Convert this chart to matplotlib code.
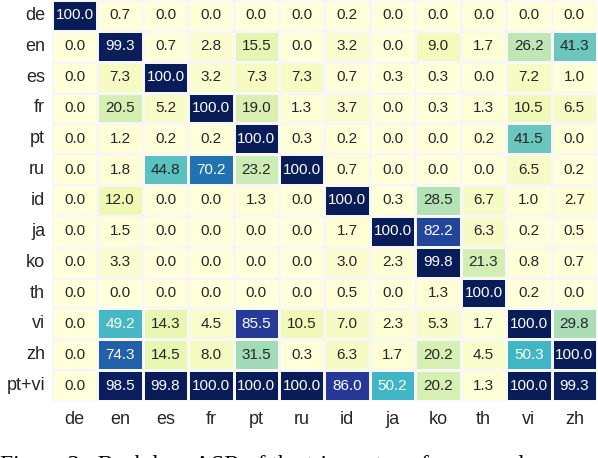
import numpy as np
import matplotlib
matplotlib.use("Agg")
import matplotlib.pyplot as plt
import seaborn as sns

row_labels = ["de", "en", "es", "fr", "pt", "ru", "id", "ja", "ko", "th", "vi", "zh", "pt+vi"]
col_labels = ["de", "en", "es", "fr", "pt", "ru", "id", "ja", "ko", "th", "vi", "zh"]

row_de = [100.0, 0.7, 0.0, 0.0, 0.0, 0.0, 0.2, 0.0, 0.0, 0.0, 0.0, 0.0]
row_en = [0.0, 99.3, 0.7, 2.8, 15.5, 0.0, 3.2, 0.0, 9.0, 1.7, 26.2, 41.3]
row_es = [0.0, 7.3, 100.0, 3.2, 7.3, 7.3, 0.7, 0.3, 0.3, 0.0, 7.2, 1.0]
row_fr = [0.0, 20.5, 5.2, 100.0, 19.0, 1.3, 3.7, 0.0, 0.3, 1.3, 10.5, 6.5]
row_pt = [0.0, 1.2, 0.2, 0.2, 100.0, 0.3, 0.2, 0.0, 0.0, 0.2, 41.5, 0.0]
row_ru = [0.0, 1.8, 44.8, 70.2, 23.2, 100.0, 0.7, 0.0, 0.0, 0.0, 6.5, 0.2]
row_id = [0.0, 12.0, 0.0, 0.0, 1.3, 0.0, 100.0, 0.3, 28.5, 6.7, 1.0, 2.7]
row_ja = [0.0, 1.5, 0.0, 0.0, 0.0, 0.0, 1.7, 100.0, 82.2, 6.3, 0.2, 0.5]
row_ko = [0.0, 3.3, 0.0, 0.0, 0.0, 0.0, 3.0, 2.3, 99.8, 21.3, 0.8, 0.7]
row_th = [0.0, 0.0, 0.0, 0.0, 0.0, 0.0, 0.5, 0.0, 1.3, 100.0, 0.2, 0.0]
row_vi = [0.0, 49.2, 14.3, 4.5, 85.5, 10.5, 7.0, 2.3, 5.3, 1.7, 100.0, 29.8]
row_zh = [0.0, 74.3, 14.5, 8.0, 31.5, 0.3, 6.3, 1.7, 20.2, 4.5, 50.3, 100.0]
row_ptvi = [0.0, 98.5, 99.8, 100.0, 100.0, 100.0, 86.0, 50.2, 20.2, 1.3, 100.0, 99.3]

data = np.array([row_de, row_en, row_es, row_fr, row_pt, row_ru, row_id,
                 row_ja, row_ko, row_th, row_vi, row_zh, row_ptvi])

plt.rcParams['font.family'] = ['Liberation Sans', 'DejaVu Sans']

fig = plt.figure(figsize=(5.98, 4.58), dpi=100)
ax = fig.add_axes([52/598, 1 - 401/458, 545/598, 401/458])

sns.heatmap(data, ax=ax, cmap="YlGnBu", vmin=0, vmax=100, annot=True, fmt=".1f",
            annot_kws={"fontsize": 11}, linewidths=1, linecolor="#f7f7f7",
            cbar=False, xticklabels=col_labels, yticklabels=row_labels)

ax.tick_params(axis="both", length=0, labelsize=13, colors="#262626")
ax.tick_params(axis="y", pad=5)
ax.tick_params(axis="x", pad=7)
ax.set_yticklabels(row_labels, rotation=0)
ax.set_xticklabels(col_labels, rotation=0)

fig.text(0.0, 1 - 470.5/458, "Figure 3:  Backdoor ASR of the trigger transfer across languages",
         family="Liberation Serif", fontsize=17, color="black", va="baseline", ha="left")

fig.savefig("out.png", dpi=100)
